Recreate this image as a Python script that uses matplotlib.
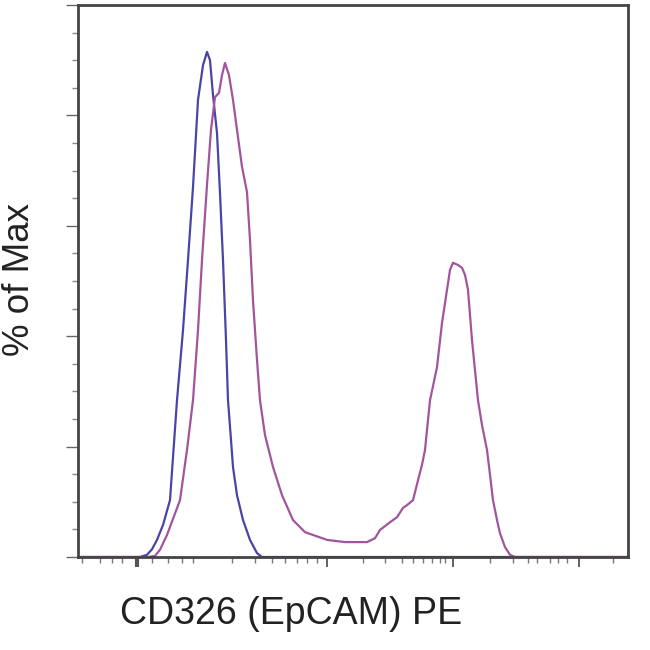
import matplotlib
matplotlib.use("Agg")
import matplotlib.pyplot as plt
import numpy as np

# Channel scale (0-550 across the axis)
blue_x = [62, 69, 74, 79, 85, 92, 99, 105, 110, 115, 120, 125, 129, 132, 135,
          139, 142, 145, 148, 150, 153, 155, 159, 165, 172, 179, 184]
blue_y = [0, 0.4, 1.4, 3.1, 5.8, 10.3, 28.4, 41.1, 53.8, 67.0, 82.8, 89.1, 91.5,
          90.0, 83.7, 76.8, 65.9, 53.8, 39.3, 28.4, 21.2, 16.3, 11.2, 6.7, 3.1, 0.7, 0]

mag_x = [70, 77, 82, 89, 95, 102, 109, 115, 120, 124, 129, 133, 137, 141, 144, 147,
         151, 155, 159, 164, 169, 172, 175, 179, 182, 187, 195, 204, 215, 227, 249,
         267, 289, 297, 302, 312, 319, 325, 329, 335, 340, 344, 347, 352, 359, 364,
         369, 372, 375, 380, 384, 387, 390, 394, 400, 404, 409, 412, 415, 419, 422,
         427, 432, 437]
mag_y = [0, 0.2, 1.3, 4.0, 6.9, 10.3, 19.4, 28.4, 41.1, 53.8, 67.4, 77.4, 83.3, 84.1,
         87.3, 89.5, 87.3, 82.8, 77.4, 70.7, 66.1, 57.4, 46.5, 35.7, 28.4, 22.1, 16.3,
         11.2, 6.7, 4.5, 3.1, 2.7, 2.7, 3.4, 4.9, 6.3, 7.2, 8.9, 9.4, 10.3, 13.9, 16.7,
         19.4, 28.4, 34.4, 42.4, 48.4, 52.0, 53.3, 52.9, 52.4, 51.1, 48.4, 39.3, 28.4,
         23.9, 19.4, 14.9, 10.3, 6.7, 4.3, 1.8, 0.4, 0]

x_major = [59, 249, 375, 501]
x_minor = [4, 22, 34, 44, 74, 90, 104, 115, 154, 177, 194, 207, 219, 229, 239,
           285, 307, 324, 335, 345, 354, 362, 367, 412, 435, 450, 459, 472, 480,
           489, 535]
y_major = [0, 20, 40, 60, 80, 100]
y_minor = [5, 10, 15, 25, 30, 35, 45, 50, 55, 65, 70, 75, 85, 90, 95]

fig = plt.figure(figsize=(6.5, 6.5), dpi=100)
ax = fig.add_axes([78/650, 93/650, 550/650, 552/650])

ax.plot([0] + blue_x + [550], [0] + blue_y + [0], color="#4a44a6", lw=1.6)
ax.plot([0] + mag_x + [550], [0] + mag_y + [0], color="#a2559c", lw=1.6)

ax.set_xlim(0, 550)
ax.set_ylim(0, 100)
ax.set_xticks(x_major)
ax.set_xticks(x_minor, minor=True)
ax.set_yticks(y_major)
ax.set_yticks(y_minor, minor=True)
ax.set_xticklabels([])
ax.set_yticklabels([])
ax.tick_params(axis="x", which="major", direction="out", length=7, width=1.3, color="#555555")
ax.tick_params(axis="x", which="minor", direction="out", length=4, width=1.0, color="#777777")
ax.tick_params(axis="y", which="major", direction="out", length=9, width=1.0, color="#666666")
ax.tick_params(axis="y", which="minor", direction="out", length=4, width=1.0, color="#888888")
first = ax.xaxis.get_major_ticks()[0]
first.tick1line.set_markeredgewidth(3)
first.tick1line.set_color("#222222")
for s in ax.spines.values():
    s.set_color("#444444")
    s.set_linewidth(2)

fig.text(291/650, 1 - 614/650, "CD326 (EpCAM) PE", ha="center", va="center",
         fontsize=27, family="Liberation Sans", color="#222222")
fig.text(20/650, 1 - 280/650, "% of Max", ha="center", va="center", rotation=90,
         fontsize=26.5, family="Liberation Sans", color="#222222")

fig.savefig("out.png", dpi=100)
